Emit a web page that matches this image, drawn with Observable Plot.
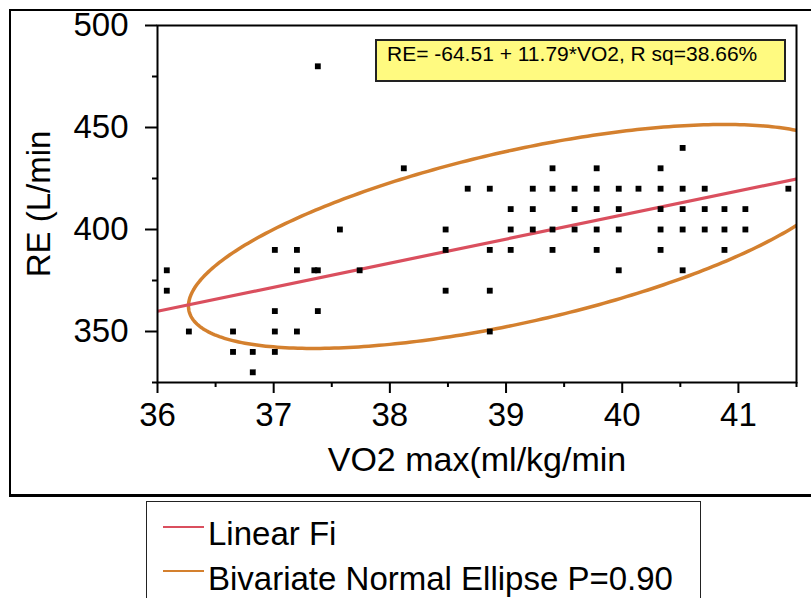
<!DOCTYPE html>
<html>
<head>
<meta charset="utf-8">
<script src="https://cdn.jsdelivr.net/npm/d3@7"></script>
<script src="https://cdn.jsdelivr.net/npm/@observablehq/plot@0.6"></script>
<style>
  html, body { margin: 0; padding: 0; background: #fff; }
  body { width: 811px; height: 598px; overflow: hidden; position: relative; font-family: "Liberation Sans", Arial, sans-serif; color: #000; }
  #frame { position: absolute; left: 9px; top: 9px; width: 830px; height: 483px; border: 2px solid #000; border-bottom-width: 3px; }
  #chart { position: absolute; left: 0; top: 0; }
  #note { position: absolute; left: 375px; top: 39px; width: 411px; height: 43px; box-sizing: border-box; background: #FFFA80; border: 2px solid #222; font-size: 21px; line-height: 23px; padding: 1px 0 0 10px; white-space: nowrap; }
  #legend { position: absolute; left: 146px; top: 501px; width: 555px; height: 130px; box-sizing: border-box; border: 1.5px solid #222; }
  .sw { position: absolute; left: 163px; width: 41px; height: 2px; }
  .lt { position: absolute; left: 208px; font-size: 33px; line-height: 33px; white-space: nowrap; }
</style>
</head>
<body>
<div id="frame"></div>
<div id="chart"></div>
<div id="note"></div>
<div id="legend"></div>
<script>
// ---- data ----
const vo2 = [
  36.08, 36.08, 36.27, 36.65, 36.65, 36.82, 36.82,
  37.01, 37.01, 37.01, 37.01, 37.20, 37.20, 37.20,
  37.35, 37.38, 37.38, 37.38, 37.57, 37.74, 38.12,
  38.48, 38.48, 38.48, 38.67, 38.86, 38.86, 38.86, 38.86,
  39.04, 39.04, 39.04, 39.23, 39.23, 39.23,
  39.40, 39.40, 39.40, 39.40, 39.59, 39.59, 39.59,
  39.78, 39.78, 39.78, 39.78, 39.78,
  39.97, 39.97, 39.97, 39.97, 40.14,
  40.33, 40.33, 40.33, 40.33, 40.33,
  40.52, 40.52, 40.52, 40.52, 40.52,
  40.71, 40.71, 40.71, 40.88, 40.88, 40.88,
  41.06, 41.06, 41.43
];
const re = [
  380, 370, 350, 350, 340, 340, 330,
  390, 360, 350, 340, 390, 380, 350,
  380, 380, 360, 480, 400, 380, 430,
  400, 390, 370, 420, 420, 390, 370, 350,
  410, 400, 390, 420, 410, 400,
  430, 420, 400, 390, 420, 410, 400,
  430, 420, 410, 400, 390,
  420, 410, 400, 380, 420,
  430, 420, 410, 400, 390,
  440, 420, 410, 400, 380,
  420, 410, 400, 410, 400, 390,
  410, 400, 420
];
const xDomain = [36, 41.5];
const yDomain = [325, 500];
const xMajorTicks = [36, 37, 38, 39, 40, 41];
const xMinorTicks = [36.5, 37.5, 38.5, 39.5, 40.5, 41.5];
const yMajorTicks = [350, 400, 450, 500];
const yMinorTicks = [325, 375, 425, 475];
// fitted line (from the annotation)
const fitIntercept = -64.51;
const fitSlope = 11.79;
const rSq = 38.66;
// bivariate normal ellipse (P = 0.90) parameters
const ellCenter = [39.11, 396.6];
const ellSD = [1.325, 25.58];
const ellR = 0.6218;
const ellP = 0.90;
const xTitle = "VO2 max(ml/kg/min";
const yTitle = "RE (L/min";
const noteText = "RE= -64.51 + 11.79*VO2, R sq=38.66%";
const legendLabels = ["Linear Fi", "Bivariate Normal Ellipse P=0.90"];
const fitColor = "#DA4F5E";
const ellColor = "#D4802E";

// ---- build ----
const points = vo2.map((v, i) => ({vo2: v, re: re[i]}));
const fitLine = xDomain.map(x => ({x, y: fitIntercept + fitSlope * x}));
const chi = Math.sqrt(-2 * Math.log(1 - ellP));
const ellipse = d3.range(0, 361, 1).map(deg => {
  const t = deg * Math.PI / 180;
  return {
    x: ellCenter[0] + chi * ellSD[0] * Math.cos(t),
    y: ellCenter[1] + chi * ellSD[1] * (ellR * Math.cos(t) + Math.sqrt(1 - ellR * ellR) * Math.sin(t))
  };
});
const fmt = d => String(d);

const chart = Plot.plot({
  width: 811,
  height: 500,
  marginLeft: 157,
  marginRight: 15,
  marginTop: 25,
  marginBottom: 118,
  style: {fontFamily: "'Liberation Sans', Arial, sans-serif", color: "#000", background: "transparent", overflow: "visible"},
  x: {domain: xDomain},
  y: {domain: yDomain},
  marks: [
    Plot.line(ellipse, {x: "x", y: "y", stroke: ellColor, strokeWidth: 3.5, clip: true}),
    Plot.line(fitLine, {x: "x", y: "y", stroke: fitColor, strokeWidth: 3.2, clip: true}),
    Plot.dot(points, {x: "vo2", y: "re", symbol: "square", fill: "#000", r: 3.3}),
    Plot.frame({stroke: "#000", strokeWidth: 2}),
    Plot.axisX(xMajorTicks, {tickSize: 11, tickPadding: 9, fontSize: 33, strokeWidth: 2, tickFormat: fmt, label: null}),
    Plot.axisX(xMinorTicks, {tickSize: 5, tickFormat: () => "", strokeWidth: 2, label: null}),
    Plot.axisX([], {tickSize: 0, label: xTitle, labelAnchor: "center", labelArrow: false, labelOffset: 88, dx: -8, fontSize: 34}),
    Plot.axisY(yMajorTicks, {tickSize: 12, tickPadding: 17, fontSize: 33, strokeWidth: 2, tickFormat: fmt, label: null}),
    Plot.axisY(yMinorTicks, {tickSize: 5, tickFormat: () => "", strokeWidth: 2, label: null}),
    Plot.axisY([], {tickSize: 0, label: yTitle, labelAnchor: "center", labelArrow: false, labelOffset: 131, dy: 5, fontSize: 33})
  ]
});
document.getElementById("chart").appendChild(chart);

document.getElementById("note").textContent = noteText;

const legend = document.body;
const swTops = [526, 570];
const txtTops = [517, 562];
[fitColor, ellColor].forEach((c, i) => {
  const sw = document.createElement("div");
  sw.className = "sw";
  sw.style.top = swTops[i] + "px";
  sw.style.background = c;
  legend.appendChild(sw);
  const t = document.createElement("div");
  t.className = "lt";
  t.style.top = txtTops[i] + "px";
  t.textContent = legendLabels[i];
  legend.appendChild(t);
});
</script>
</body>
</html>
